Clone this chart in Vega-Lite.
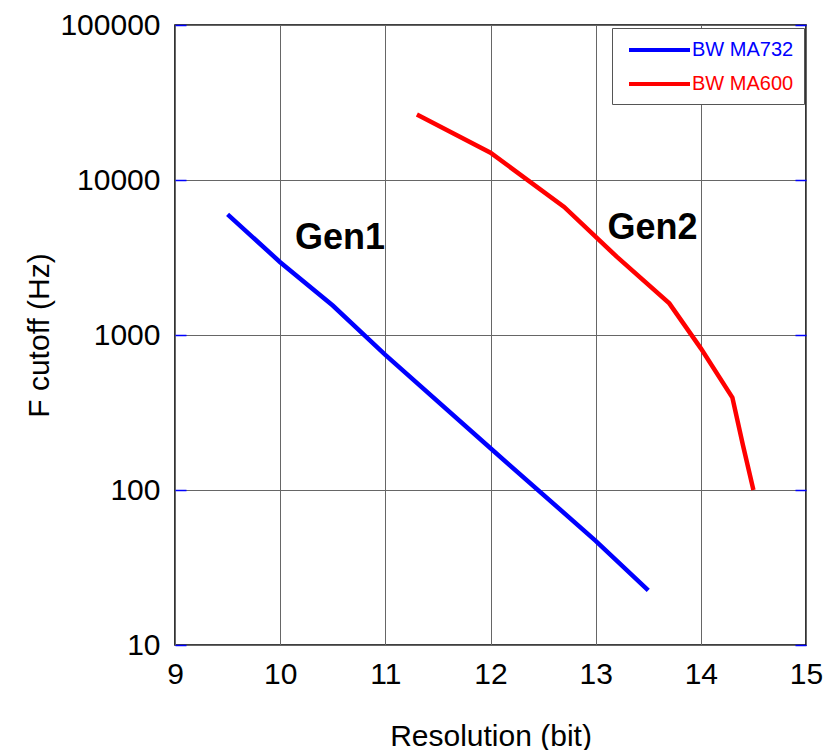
{
  "$schema": "https://vega.github.io/schema/vega-lite/v6.json",
  "autosize": "none",
  "width": 631,
  "height": 620,
  "padding": {"left": 175, "top": 25, "right": 24, "bottom": 105},
  "background": "white",
  "config": {
    "font": "Liberation Sans",
    "view": {"stroke": "#000000", "strokeWidth": 1.6},
    "axis": {
      "labelFont": "Liberation Sans",
      "titleFont": "Liberation Sans",
      "labelFontSize": 30,
      "titleFontSize": 30,
      "titleFontWeight": "normal",
      "labelColor": "#000000",
      "titleColor": "#000000",
      "gridColor": "#666666",
      "gridOpacity": 1,
      "gridWidth": 1,
      "domain": false,
      "ticks": false,
      "labelFlush": false
    }
  },
  "resolve": {"axis": {"y": "independent"}},
  "datasets": {
    "series": [
      {"res": 9.5, "f": 6000, "s": "BW MA732"},
      {"res": 10, "f": 2950, "s": "BW MA732"},
      {"res": 10.5, "f": 1550, "s": "BW MA732"},
      {"res": 11, "f": 745, "s": "BW MA732"},
      {"res": 12, "f": 186, "s": "BW MA732"},
      {"res": 13, "f": 47, "s": "BW MA732"},
      {"res": 13.5, "f": 22.5, "s": "BW MA732"},
      {"res": 11.3, "f": 26500, "s": "BW MA600"},
      {"res": 12, "f": 15000, "s": "BW MA600"},
      {"res": 12.7, "f": 6700, "s": "BW MA600"},
      {"res": 13.2, "f": 3200, "s": "BW MA600"},
      {"res": 13.7, "f": 1600, "s": "BW MA600"},
      {"res": 14, "f": 820, "s": "BW MA600"},
      {"res": 14.3, "f": 395, "s": "BW MA600"},
      {"res": 14.4, "f": 195, "s": "BW MA600"},
      {"res": 14.5, "f": 100, "s": "BW MA600"}
    ],
    "notes": [
      {"res": 10.57, "f": 4200, "label": "Gen1"},
      {"res": 13.54, "f": 4900, "label": "Gen2"}
    ]
  },
  "layer": [
    {
      "data": {"name": "series"},
      "mark": {"type": "line", "strokeWidth": 4.5, "clip": true},
      "encoding": {
        "x": {
          "field": "res", "type": "quantitative",
          "scale": {"domain": [9, 15], "nice": false, "zero": false},
          "axis": {"values": [9, 10, 11, 12, 13, 14, 15], "grid": true, "title": "Resolution (bit)", "labelPadding": 14, "titlePadding": 32, "format": "d"}
        },
        "y": {
          "field": "f", "type": "quantitative",
          "scale": {"type": "log", "domain": [10, 100000], "nice": false},
          "axis": {"values": [10, 100, 1000, 10000, 100000], "grid": true, "format": "d", "title": "F cutoff (Hz)", "labelPadding": 26, "titlePadding": 5, "ticks": true, "tickSize": -11, "tickColor": "#0000ff", "tickWidth": 1.5}
        },
        "color": {
          "field": "s", "type": "nominal",
          "scale": {"domain": ["BW MA732", "BW MA600"], "range": ["#0000ff", "#ff0000"]},
          "legend": {
            "title": null,
            "orient": "none",
            "legendX": 437,
            "legendY": 3,
            "symbolType": "M -0.5 0 H 5.6",
            "symbolSize": 400,
            "symbolStrokeWidth": 4,
            "labelFontSize": 20,
            "labelFont": "Liberation Sans",
            "labelOffset": 46,
            "rowPadding": 12,
            "padding": 10,
            "strokeColor": "#555555",
            "fillColor": "white",
            "labelColor": {"expr": "datum.label == 'BW MA732' ? '#0000ff' : '#ff0000'"}
          }
        },
        "order": {"field": "res", "type": "quantitative"}
      }
    },
    {
      "data": {"name": "notes"},
      "mark": {"type": "text", "fontSize": 36, "fontWeight": "bold", "font": "Liberation Sans", "color": "#000000"},
      "encoding": {
        "x": {"field": "res", "type": "quantitative"},
        "y": {
          "field": "f", "type": "quantitative",
          "axis": {"orient": "right", "values": [10, 100, 1000, 10000, 100000], "grid": false, "labels": false, "title": null, "ticks": true, "tickSize": -11, "tickColor": "#0000ff", "tickWidth": 1.5}
        },
        "text": {"field": "label", "type": "nominal"}
      }
    }
  ]
}
